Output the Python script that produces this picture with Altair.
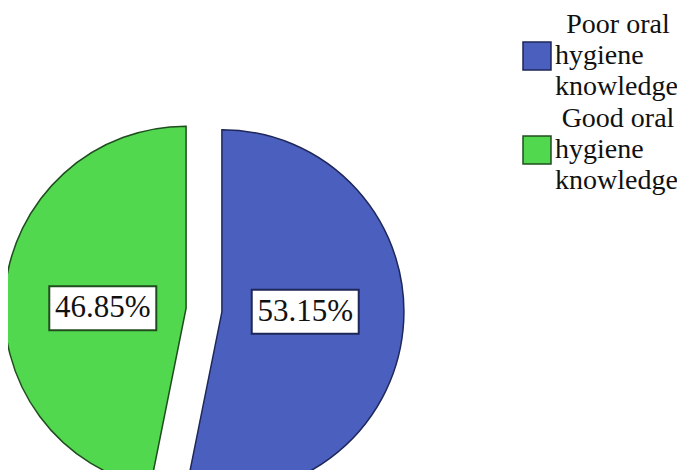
import altair as alt
import pandas as pd

# ---- data ----
categories = ["Poor oral hygiene knowledge", "Good oral hygiene knowledge"]
percents = [53.15, 46.85]
fill_colors = ["#4a5fbe", "#52d84e"]
edge_colors = ["#1e2758", "#1f4d1f"]

FONT = "serif"

# ---- layout / style constants (pixels inside the plot area) ----
CX, CY = 196, 302      # pie centre before explosion
R = 182                # pie radius
EXPLODE = 18           # slice separation
LABEL_F = 0.46         # label distance as fraction of radius
BOX_W, BOX_H = 107, 44

# legend layout (plot-area pixels)
LEG_SYM_X = 529        # symbol centre x
LEG_SYM_Y0 = 48        # first symbol centre y
LEG_STEP = 94          # distance between entries
LEG_LH = 31            # line height of legend text
LEG_TEXT_X = 547       # left edge of wrapped lines
LEG_HEAD_X = 610       # centre of the first line
LEG_FS = 28

df = pd.DataFrame({"category": categories, "value": percents})
scale_fill = alt.Scale(domain=categories, range=fill_colors)
scale_edge = alt.Scale(domain=categories, range=edge_colors)

base = alt.Chart(df).transform_joinaggregate(
    total="sum(value)"
).transform_window(
    cum="sum(value)", idx="row_number()", frame=[None, 0]
).transform_calculate(
    start="(datum.cum - datum.value) / datum.total * 2 * PI",
    end="datum.cum / datum.total * 2 * PI",
).transform_calculate(
    mid="(datum.start + datum.end) / 2"
).transform_calculate(
    cx=f"{CX} + {EXPLODE} * sin(datum.mid)",
    cy=f"{CY} - {EXPLODE} * cos(datum.mid)",
).transform_calculate(
    lx=f"datum.cx + {LABEL_F} * {R} * sin(datum.mid)",
    ly="datum.cy",
    label="format(datum.value, '.2f') + '%'",
).transform_calculate(
    bx1=f"datum.lx - {BOX_W / 2}",
    bx2=f"datum.lx + {BOX_W / 2}",
    by1=f"datum.ly - {BOX_H / 2}",
    by2=f"datum.ly + {BOX_H / 2}",
    # legend helpers
    sy=f"{LEG_SYM_Y0} + (datum.idx - 1) * {LEG_STEP}",
    head="slice(datum.category, 0, indexof(datum.category, ' hygiene'))",
    rest="split(slice(datum.category, indexof(datum.category, ' hygiene') + 1), ' ')",
)

pie = base.mark_arc(radius=R, strokeWidth=1.5).encode(
    theta=alt.Theta("start:Q", scale=None),
    theta2="end:Q",
    x=alt.X("cx:Q", scale=None, axis=None),
    y=alt.Y("cy:Q", scale=None, axis=None),
    fill=alt.Fill("category:N", scale=scale_fill, legend=None),
    stroke=alt.Stroke("category:N", scale=scale_edge, legend=None),
)

boxes = base.mark_rect(fill="white", strokeWidth=2).encode(
    x=alt.X("bx1:Q", scale=None, axis=None),
    x2="bx2:Q",
    y=alt.Y("by1:Q", scale=None, axis=None),
    y2="by2:Q",
    stroke=alt.Stroke("category:N", scale=scale_edge, legend=None),
)

labels = base.mark_text(
    font=FONT, fontSize=31, color="#111111", align="center", baseline="middle"
).encode(
    x=alt.X("lx:Q", scale=None, axis=None),
    y=alt.Y("ly:Q", scale=None, axis=None),
    text="label:N",
)

# ---- legend drawn from the category list ----
leg_sym = base.mark_square(size=784, strokeWidth=1.5, opacity=1).encode(
    x=alt.value(LEG_SYM_X),
    y=alt.Y("sy:Q", scale=None, axis=None),
    fill=alt.Fill("category:N", scale=scale_fill, legend=None),
    stroke=alt.Stroke("category:N", scale=scale_edge, legend=None),
)

leg_head = base.transform_calculate(hy=f"datum.sy - {LEG_LH}").mark_text(
    font=FONT, fontSize=LEG_FS, color="#111111", align="center", baseline="middle"
).encode(
    x=alt.value(LEG_HEAD_X),
    y=alt.Y("hy:Q", scale=None, axis=None),
    text="head:N",
)

leg_rest = base.mark_text(
    font=FONT, fontSize=LEG_FS, color="#111111", align="left", baseline="middle", lineHeight=LEG_LH
).encode(
    x=alt.value(LEG_TEXT_X),
    y=alt.Y("sy:Q", scale=None, axis=None),
    text="rest:N",
)

chart = alt.layer(pie, boxes, labels, leg_sym, leg_head, leg_rest).properties(
    width=669,
    height=520,
    padding=0,
    autosize=alt.AutoSizeParams(type="none"),
    background="white",
).configure_view(stroke=None)

chart.save("out.html", embed_options={"renderer": "svg", "actions": False})
